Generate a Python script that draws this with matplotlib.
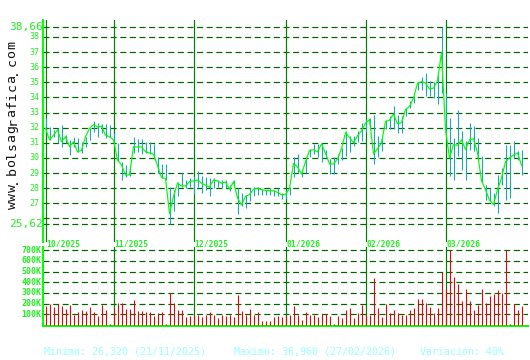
#Grafico de cotizacion estilo bolsagrafica: precio (max-min y cierre) y volumen

import matplotlib.pyplot as plt
import numpy as np

# =============================================================================
# Datos
# =============================================================================

cierre = [31.96, 31.19, 31.50, 31.85, 31.07, 31.40, 30.74, 31.07, 30.40, 30.50,
          31.40, 31.96, 32.20, 32.05, 32.10, 31.50, 31.40, 31.20, 29.86, 29.53,
          28.87, 28.87, 30.74, 30.72, 30.72, 30.40, 30.33, 30.24, 29.50, 28.70,
          28.65, 26.32, 27.46, 28.33, 28.15, 28.15, 28.43, 28.48, 28.54, 28.33,
          28.20, 28.07, 28.54, 28.48, 28.33, 28.40, 27.93, 28.43, 27.35, 26.90,
          27.46, 27.57, 27.93, 28.00, 27.90, 27.85, 27.83, 27.83, 27.72, 27.57,
          27.57, 28.00, 29.63, 29.41, 28.93, 29.74, 30.50, 30.54, 30.40, 30.93,
          30.30, 29.60, 29.60, 29.93, 30.60, 31.67, 31.35, 31.00, 31.46, 31.80,
          32.30, 32.54, 30.26, 30.60, 31.00, 32.40, 32.50, 32.90, 32.26, 32.33,
          33.20, 33.40, 33.96, 34.93, 35.04, 34.95, 34.55, 34.62, 35.10, 36.96,
          31.90, 30.00, 30.88, 30.84, 31.20, 30.55, 31.20, 31.27, 30.33, 28.50,
          27.90, 27.20, 26.92, 27.90, 28.68, 29.74, 30.00, 30.18, 30.33, 29.52]

maximo = [32.62, 32.07, 31.85, 31.96, 32.18, 31.52, 31.19, 31.41, 31.30, 31.02,
          31.41, 31.96, 32.46, 32.29, 32.25, 32.25, 32.18, 31.63, 30.97, 29.75,
          29.53, 29.53, 31.41, 31.26, 31.26, 31.04, 31.04, 30.93, 30.07, 29.63,
          29.63, 28.11, 27.89, 28.43, 28.98, 28.54, 28.65, 28.80, 29.13, 28.80,
          28.72, 28.65, 28.65, 28.54, 28.54, 28.54, 28.22, 28.54, 28.00, 27.67,
          27.57, 28.00, 28.07, 28.07, 27.93, 27.89, 28.00, 27.89, 28.00, 27.67,
          27.90, 28.11, 30.07, 30.28, 29.30, 30.07, 30.61, 30.93, 30.93, 31.00,
          30.50, 29.96, 30.04, 30.26, 30.65, 31.80, 31.45, 31.46, 31.78, 32.33,
          32.60, 32.65, 32.87, 31.46, 31.35, 32.54, 32.76, 33.41, 32.87, 32.76,
          33.30, 33.74, 34.07, 35.04, 35.38, 35.60, 35.10, 35.05, 35.50, 38.66,
          34.30, 32.64, 31.32, 33.19, 31.76, 31.10, 32.31, 32.09, 31.32, 30.11,
          28.24, 28.02, 27.69, 28.90, 29.34, 30.84, 30.88, 31.10, 30.44, 30.55]

minimo = [31.63, 31.19, 31.41, 30.97, 30.74, 30.97, 30.19, 30.74, 30.38, 30.30,
          30.74, 31.19, 31.74, 31.41, 31.63, 31.30, 31.37, 30.97, 29.80, 28.54,
          28.76, 28.80, 30.30, 30.39, 30.28, 30.35, 30.28, 29.96, 28.98, 28.65,
          28.54, 25.62, 26.48, 27.46, 28.11, 28.00, 28.11, 27.60, 28.07, 27.67,
          27.89, 27.46, 28.00, 28.11, 28.00, 28.00, 27.78, 28.11, 26.26, 26.80,
          26.70, 27.13, 27.46, 27.57, 27.57, 27.57, 27.57, 27.46, 27.46, 27.28,
          27.30, 27.57, 28.76, 28.98, 28.76, 28.98, 30.07, 30.28, 30.07, 29.74,
          30.07, 28.96, 28.96, 29.60, 29.83, 30.15, 30.37, 30.80, 31.02, 31.13,
          31.70, 32.00, 29.60, 30.04, 30.48, 31.89, 31.89, 31.89, 31.67, 31.67,
          32.76, 33.30, 33.63, 34.50, 34.50, 34.07, 34.07, 33.96, 33.56, 34.29,
          31.50, 28.79, 28.57, 30.11, 29.23, 28.57, 30.55, 30.44, 30.00, 28.40,
          27.25, 27.14, 26.81, 26.37, 28.24, 27.25, 27.36, 30.00, 29.89, 28.90]

volumen = [178, 197, 169, 197, 178, 150, 188, 94, 122, 141,
           131, 169, 122, 84, 188, 141, 9, 150, 206, 206,
           150, 150, 234, 131, 131, 122, 122, 84, 112, 122,
           9, 300, 206, 141, 141, 75, 84, 90, 94, 75,
           94, 122, 94, 66, 94, 84, 94, 75, 281, 131,
           94, 150, 94, 122, 38, 38, 38, 75, 84, 75,
           84, 94, 178, 94, 47, 122, 94, 94, 75, 103,
           103, 84, 9, 84, 66, 141, 159, 66, 112, 188,
           94, 94, 441, 159, 75, 197, 112, 141, 112, 94,
           94, 141, 159, 244, 244, 206, 169, 112, 159, 497,
           338, 700, 450, 384, 225, 338, 225, 141, 188, 338,
           206, 272, 291, 328, 300, 700, 9, 197, 141, 178]  # en miles

meses_pos = [0, 17, 37, 60, 80, 100]
meses = ['10/2025', '11/2025', '12/2025', '01/2026', '02/2026', '03/2026']

grid_precio = [26, 27, 28, 29, 30, 31, 32, 33, 34, 35, 36, 37, 38]
precio_max, precio_min = 38.66, 25.62
grid_vol = [100, 200, 300, 400, 500, 600, 700]

dias = np.arange(len(cierre))

# =============================================================================
# Figura
# =============================================================================

W, H = 530, 360
fig = plt.figure(figsize=(W / 100, H / 100), dpi=100)
fig.patch.set_facecolor('white')
mono = 'DejaVu Sans Mono'
verde = '#00ff00'
verde_lab = '#22ee22'
verde_osc = '#008000'
guion = (0, (5, 3))
px = 0.72  # 1 pixel en puntos

def ejes_px(izq, arriba, der, abajo):
    return fig.add_axes([izq / W, 1 - abajo / H, (der - izq) / W, (abajo - arriba) / H])

# --- precio ---
ax = ejes_px(43, 20, 528, 242)
ax.set_xlim(-0.625, 120.625)
ax.set_ylim(24.44, 39.12)
for s in ['top', 'right', 'bottom']:
    ax.spines[s].set_visible(False)
ax.spines['left'].set_color(verde)
ax.spines['left'].set_linewidth(1.4)
ax.set_xticks([])
ax.set_yticks([])

for v in grid_precio + [precio_max, precio_min]:
    ax.axhline(v, ls=guion, color='#006400', lw=1.2 * px, zorder=1)
for m in meses_pos:
    ax.axvline(m, color=verde_osc, lw=1.2 * px, zorder=2)

ax.vlines(dias, minimo, maximo, color='#18a8b8', lw=1.1 * px, zorder=3)
ax.plot(dias, cierre, color=verde, lw=1.2 * px, zorder=4)

ytr = ax.get_yaxis_transform()
for v in grid_precio[1:]:
    ax.text(-0.007, v, str(v), transform=ytr, ha='right', va='center',
            family=mono, fontsize=6, color=verde_lab)
for v in [precio_max, precio_min]:
    ax.text(-0.001, v, ('%.2f' % v).replace('.', ','), transform=ytr, ha='right',
            va='center', family=mono, fontsize=8, color=verde_lab)

xtr = ax.get_xaxis_transform()
for m, lab in zip(meses_pos, meses):
    ax.text(m + 0.3, -0.008, lab, transform=xtr, ha='left', va='center',
            family=mono, fontsize=5.8, fontweight='bold', color=verde_lab, clip_on=False)

# --- volumen ---
axv = ejes_px(43, 247, 528, 326)
axv.set_xlim(-0.625, 120.625)
axv.set_ylim(-9.4, 731)
for s in ['top', 'right']:
    axv.spines[s].set_visible(False)
for s in ['left', 'bottom']:
    axv.spines[s].set_color(verde)
    axv.spines[s].set_linewidth(1.4)
axv.set_xticks([])
axv.set_yticks([])

for v in grid_vol:
    axv.axhline(v, ls=guion, color='#006400', lw=1.2 * px, zorder=1)
    axv.text(-0.003, v, '%dK' % v, transform=axv.get_yaxis_transform(), ha='right',
             va='center', family=mono, fontsize=6, fontweight='bold', color=verde_lab)
for m in meses_pos[1:]:
    axv.axvline(m, color=verde_osc, lw=1.2 * px, zorder=2)

axv.vlines(dias, 0, volumen, color='#ee0000', lw=1.1 * px, zorder=3)

# --- textos ---
# marca de agua vertical, letras separadas
web = 'www.bolsagrafica.com'
for k, c in enumerate(web):
    fig.text(12 / W, 1 - (205 - 8.4 * k) / H, c, rotation=90, ha='center',
             va='center', family=mono, fontsize=9.5, color='#111111')

pie = '#99ffff'
fig.text(44 / W, 1 - 352 / H, 'Minimo: 26,320 (21/11/2025)', family=mono,
         fontsize=7.2, color=pie, va='center')
fig.text(234 / W, 1 - 352 / H, 'Maximo: 36,960 (27/02/2026)', family=mono,
         fontsize=7.2, color=pie, va='center')
fig.text(420 / W, 1 - 352 / H, 'Variación: 40%', family=mono,
         fontsize=7.2, color=pie, va='center')

plt.savefig('out.png', dpi=100)
